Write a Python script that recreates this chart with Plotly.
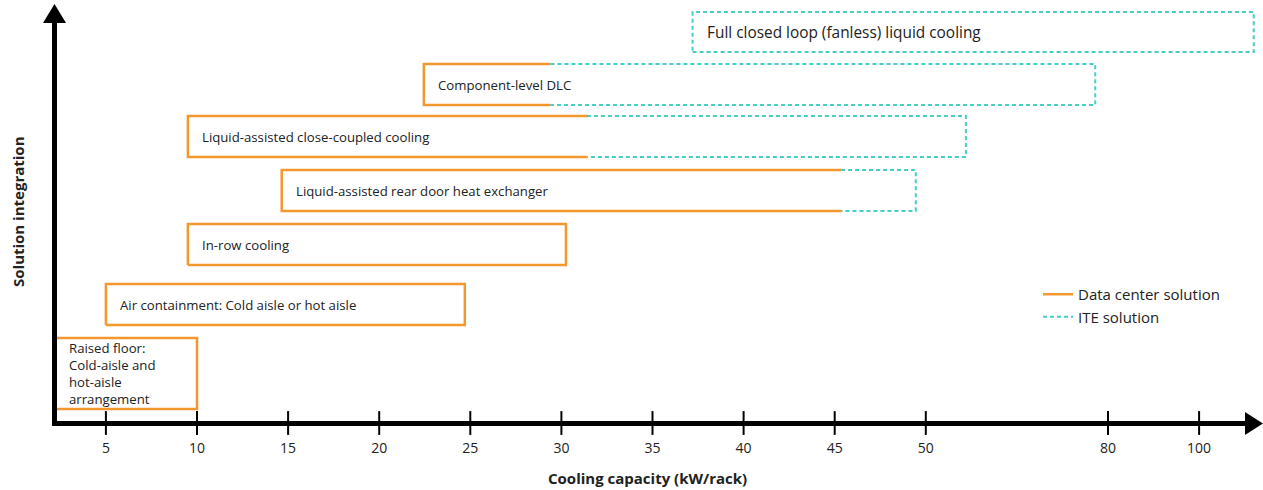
import numpy as np
import plotly.graph_objects as go

# ---------------- data ----------------
tick_kw = [5, 10, 15, 20, 25, 30, 35, 40, 45, 50, 80, 100]
tick_pos = [5, 10, 15, 20, 25, 30, 35, 40, 45, 50, 60, 65]  # ordinal axis positions
tick_text = [str(v) for v in tick_kw]

solutions = [
    "Raised floor:<br>Cold-aisle and<br>hot-aisle<br>arrangement",
    "Air containment: Cold aisle or hot aisle",
    "In-row cooling",
    "Liquid-assisted rear door heat exchanger",
    "Liquid-assisted close-coupled cooling",
    "Component-level DLC",
    "Full closed loop (fanless) liquid cooling",
]
label_size = [13.2, 13.2, 13.2, 13.2, 13.2, 13.2, 15.4]
# capacity range (kW/rack): start, end of data-center part, end of whole solution
cap_start = [2.2, 5.0, 9.5, 14.65, 9.5, 22.45, 37.2]
cap_dc_end = [10.0, 24.7, 30.25, 45.35, 31.4, 29.4, 37.2]
cap_end = [10.0, 24.7, 30.25, 49.45, 56.6, 77.9, 112.0]
# integration level (vertical extent of each box)
integ_low = [14, 98, 158, 212, 266, 318, 371]
integ_high = [85, 139, 199, 253, 307, 359, 411]

ORANGE = "#F3982F"
CYAN = "#45CEC6"


def kw_to_pos(v):
    if v <= tick_kw[0]:
        return tick_pos[0] + (v - tick_kw[0])
    if v >= tick_kw[-1]:
        slope = (tick_pos[-1] - tick_pos[-2]) / (tick_kw[-1] - tick_kw[-2])
        return tick_pos[-1] + (v - tick_kw[-1]) * slope
    return float(np.interp(v, tick_kw, tick_pos))


fig = go.Figure()

for i, name in enumerate(solutions):
    s = kw_to_pos(cap_start[i])
    m = kw_to_pos(cap_dc_end[i])
    e = kw_to_pos(cap_end[i])
    lo, hi = integ_low[i], integ_high[i]
    if m > s:
        if abs(m - e) < 1e-9:
            xs = [s, e, e, s, s]
            ys = [lo, lo, hi, hi, lo]
        else:
            xs = [m, s, s, m]
            ys = [hi, hi, lo, lo]
        fig.add_trace(go.Scatter(x=xs, y=ys, mode="lines",
                                 line=dict(color=ORANGE, width=2.5),
                                 showlegend=False, hoverinfo="skip"))
    if e > m:
        if abs(m - s) < 1e-9:
            xs = [s, e, e, s, s]
            ys = [lo, lo, hi, hi, lo]
        else:
            xs = [m, e, e, m]
            ys = [hi, hi, lo, lo]
        fig.add_trace(go.Scatter(x=xs, y=ys, mode="lines",
                                 line=dict(color=CYAN, width=2, dash="4px,3px"),
                                 showlegend=False, hoverinfo="skip"))
    fig.add_annotation(x=s, y=(lo + hi) / 2, xref="x", yref="y", text=name,
                       showarrow=False, xanchor="left", yanchor="middle",
                       align="left", xshift=12,
                       font=dict(family="Open Sans", size=label_size[i], color="#222"))

# legend entries
fig.add_trace(go.Scatter(x=[None], y=[None], mode="lines", name="Data center solution",
                         line=dict(color=ORANGE, width=2.5)))
fig.add_trace(go.Scatter(x=[None], y=[None], mode="lines", name="ITE solution",
                         line=dict(color=CYAN, width=2, dash="4px,3px")))

# tick marks crossing the axis line
fig.add_trace(go.Scatter(x=tick_pos, y=[0] * len(tick_pos), mode="markers",
                         marker=dict(symbol="line-ns", size=17,
                                     line=dict(width=2, color="black")),
                         cliponaxis=False, showlegend=False, hoverinfo="skip"))

# ------------- layout -------------
W, H = 1263, 490
ML, MR, MT, MB = 52, 1, 4, 67
PW, PH = W - ML - MR, H - MT - MB


def px(x):
    return (x - ML) / PW


def py(y):
    return (H - MB - y) / PH


x_lo = 10 - (197 - ML) / 18.22
x_hi = 10 + (W - MR - 197) / 18.22

shapes = [
    # x axis line
    dict(type="line", xref="paper", yref="paper", x0=px(52), x1=px(1247),
         y0=py(423.5), y1=py(423.5), line=dict(color="black", width=5)),
    # y axis line
    dict(type="line", xref="paper", yref="paper", x0=px(54.5), x1=px(54.5),
         y0=py(426), y1=py(21), line=dict(color="black", width=5)),
    # x arrow head
    dict(type="path", xref="paper", yref="paper", fillcolor="black",
         line=dict(color="black", width=0),
         path=f"M{px(1245)},{py(412)} L{px(1263)},{py(423.5)} L{px(1245)},{py(435)} Z"),
    # y arrow head
    dict(type="path", xref="paper", yref="paper", fillcolor="black",
         line=dict(color="black", width=0),
         path=f"M{px(43)},{py(23)} L{px(54.5)},{py(4)} L{px(66)},{py(23)} Z"),
]

annotations = [
    dict(text="<b>Cooling capacity (kW/rack)</b>", xref="paper", yref="paper",
         x=px(647), y=py(478), showarrow=False, xanchor="center", yanchor="middle",
         font=dict(family="Open Sans", size=15, color="#222")),
    dict(text="<b>Solution integration</b>", xref="paper", yref="paper",
         x=px(18), y=py(212), showarrow=False, textangle=-90,
         xanchor="center", yanchor="middle",
         font=dict(family="Open Sans", size=15, color="#222")),
]

fig.update_layout(
    width=W, height=H,
    margin=dict(l=ML, r=MR, t=MT, b=MB, pad=0),
    paper_bgcolor="white", plot_bgcolor="white",
    showlegend=True,
    legend=dict(x=px(1038), y=py(278), xanchor="left", yanchor="top",
                bgcolor="rgba(0,0,0,0)",
                font=dict(family="Open Sans", size=15, color="#222"),
                tracegroupgap=0),
    shapes=shapes,
    xaxis=dict(range=[x_lo, x_hi], tickvals=tick_pos, ticktext=tick_text,
               showgrid=False, zeroline=False, showline=False,
               ticks="outside", ticklen=12, tickcolor="rgba(0,0,0,0)",
               tickfont=dict(family="Open Sans", size=14, color="#222"),
               fixedrange=True),
    yaxis=dict(range=[0, PH], showgrid=False, zeroline=False, showline=False,
               showticklabels=False, ticks="", fixedrange=True),
    font=dict(family="Open Sans"),
)
for a in annotations:
    fig.add_annotation(**a)

fig.write_html("out.html", config={"displayModeBar": False},
               post_script="document.body.style.margin='0';document.body.style.padding='0';")
